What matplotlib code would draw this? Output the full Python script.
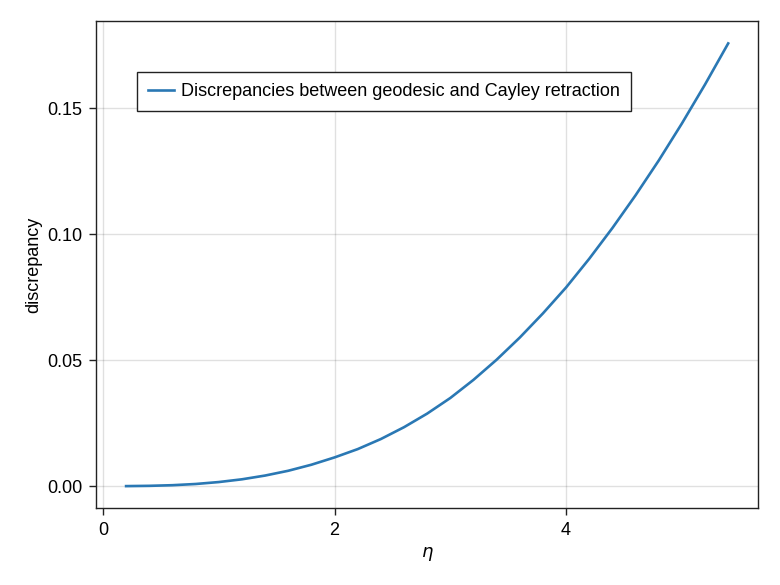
import matplotlib.pyplot as plt
import numpy as np

plt.rcParams['font.family'] = ['Liberation Sans', 'DejaVu Sans']

# step sizes eta and measured discrepancy
eta = [0.2, 0.4, 0.6, 0.8, 1.0, 1.2, 1.4, 1.6, 1.8, 2.0,
       2.2, 2.4, 2.6, 2.8, 3.0, 3.2, 3.4, 3.6, 3.8, 4.0,
       4.2, 4.4, 4.6, 4.8, 5.0, 5.2, 5.4]
discrepancy = [0.00001, 0.00012, 0.00037, 0.00085, 0.00162, 0.00271, 0.0042, 0.0061, 0.0085, 0.0114,
               0.0147, 0.0187, 0.0234, 0.0288, 0.0350, 0.0422, 0.0502, 0.0590, 0.0686, 0.0789,
               0.0903, 0.1025, 0.1155, 0.1293, 0.1440, 0.1595, 0.1758]
label = "Discrepancies between geodesic and Cayley retraction"

fig = plt.figure(figsize=(7.8, 5.85), dpi=100)
ax = fig.add_axes([96/780, 1-508.3/585, (758.3-96)/780, (508.3-21)/585])

ax.plot(eta, discrepancy, color='#2a78b4', lw=1.9, label=label, solid_joinstyle='round')

ax.set_xlim(-0.06, 5.66)
ax.set_ylim(-0.0088, 0.1847)
ax.set_xticks([0, 2, 4])
ax.set_yticks([0.0, 0.05, 0.10, 0.15])
ax.set_yticklabels(["0.00", "0.05", "0.10", "0.15"])
ax.grid(True, color='black', alpha=0.12, lw=1)
ax.set_axisbelow(True)
ax.tick_params(direction='out', length=5, width=1, labelsize=13, pad=5,
               colors='#222222', labelcolor='black')
for s in ax.spines.values():
    s.set_color('#222222')
    s.set_linewidth(1)

ax.set_xlabel(r"$\eta$", fontsize=13, labelpad=4)
ax.set_ylabel("discrepancy", fontsize=13, labelpad=3)

leg = ax.legend(loc='upper left', bbox_to_anchor=(137.3/780, 1-71.7/585),
                bbox_transform=fig.transFigure, borderaxespad=0, fontsize=13,
                fancybox=False, framealpha=1, edgecolor='#222222',
                handlelength=1.4, handletextpad=0.4, borderpad=0.62)
leg.get_frame().set_linewidth(1)

fig.savefig("out.png", dpi=100)
